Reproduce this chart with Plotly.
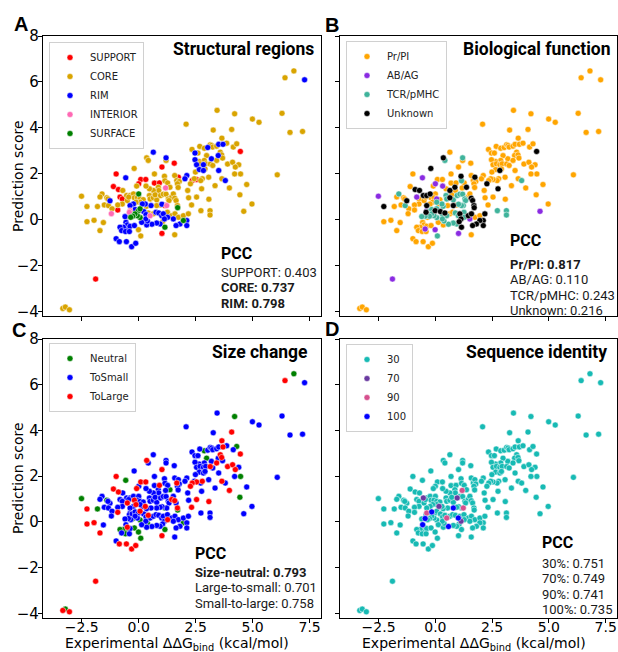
import plotly.graph_objects as go

# ---------------- data ----------------
x_ddg = [6.42, 6.81, 7.28, 3.44, 4.21, 6.29, 2.08, 4.99, 5.28, 6.64, 7.19, 3.27, 4.08, 3.65, 6.08,
         2.34, 2.47, 2.68, 2.88, 3.03, 3.14, 3.20, 3.25, 3.42, 3.51, 3.70, 3.86, 4.15, 4.30, 4.46,
         3.58, 3.49, 3.64, 3.19, 3.42, 2.98, 2.88, 2.65, 2.47, 2.54, 2.69, 2.84, 2.94, 3.14, 3.25,
         2.66, 2.84, 2.91, 2.49, 3.68, 3.90, 4.12, 4.39, 4.24, 4.47, 3.51, 3.65, 3.80, 4.21, 4.74,
         3.98, 3.35, 3.07, 2.79, 2.72, 2.54, 2.44, 2.35, 2.11, 2.03, 2.27, 2.15, 2.19, 2.32, 2.54,
         2.76, 2.73, 3.08, 3.13, 3.13, 4.44, 4.97, 4.61, 2.60, 0.64, 0.35, 0.42, 1.20, 1.20, 1.56,
         -0.20, 1.02, -0.99, -0.57, 0.09, 0.31, 0.69, 0.69, 0.91, 1.13, 1.15, 1.27, 1.58, 1.67, 1.74,
         1.78, 1.70, 1.73, 1.37, 1.18, 0.86, 0.88, 0.64, 0.47, 0.32, 0.00, -0.09, -1.11, -0.89, -0.70,
         -0.53, -0.38, -0.23, 0.00, -0.19, -0.06, 0.06, 0.20, -0.82, -0.72, -0.50, -0.44, -0.72, -0.92, -1.26,
         -1.40, -1.35, -1.61, -1.70, -1.51, -1.81, -2.27, -2.51, -1.33, -1.17, -0.92, -1.20, -1.96, -2.27, -1.55,
         -1.70, 0.47, 0.50, 0.64, 0.79, 0.72, 0.96, 1.08, 1.20, 1.30, 1.45, 1.52, 1.58, 1.64, 1.70,
         1.71, 1.33, 1.23, 1.15, 1.02, 0.94, 0.79, 0.54, 0.34, 0.29, 0.16, 0.06, -0.12, -0.23, -0.38,
         -0.38, -0.41, -0.29, -0.16, -0.01, 0.06, 0.22, 0.32, 0.42, 0.50, 0.64, 0.76, 0.88, 1.01, 1.08,
         1.26, 1.45, 1.59, 1.74, 1.96, 2.18, 2.11, 2.11, 1.96, 1.81, 1.64, 1.52, 1.27, 1.13, 1.05,
         1.15, 0.94, 0.79, 0.58, 0.35, 0.38, 0.31, 0.06, -0.06, -0.16, -0.26, -0.35, -0.45, -0.60, -0.56,
         -0.50, -0.45, -0.38, -0.67, -0.82, -0.75, -0.58, -0.41, -0.19, -0.01, 0.13, 0.09, -0.99, -0.85, -0.54,
         -0.31, -0.13, 1.02, 1.58, -1.89, -3.33, -3.22, -3.04]

y_pred = [6.18, 6.48, 6.09, 4.76, 4.61, 4.63, 4.16, 4.38, 4.24, 3.80, 3.84, 3.90, 3.93, 3.55, 1.95,
          3.06, 2.90, 3.19, 3.11, 3.14, 3.26, 3.23, 3.16, 3.20, 3.28, 3.28, 3.33, 3.16, 3.30, 2.97,
          2.94, 2.79, 2.82, 2.65, 2.58, 2.79, 2.58, 2.53, 2.61, 2.39, 2.43, 2.39, 2.43, 2.42, 2.36,
          2.18, 2.14, 2.21, 2.07, 2.68, 2.42, 2.50, 2.39, 2.29, 1.99, 2.14, 1.78, 1.70, 1.99, 1.53,
          1.38, 1.48, 1.85, 1.78, 1.70, 1.75, 1.78, 1.70, 1.92, 1.78, 1.56, 1.27, 0.95, 0.64, 0.98,
          1.34, 0.39, 0.89, 0.39, 0.20, 1.08, 0.68, 0.36, 2.90, 2.94, 2.69, 2.58, 2.69, 2.58, 2.46,
          2.23, 2.29, 1.99, 1.82, 1.75, 1.75, 1.99, 1.59, 1.60, 1.89, 1.69, 1.60, 1.92, 1.70, 1.85,
          1.66, 1.56, 1.40, 1.41, 1.38, 1.41, 1.27, 1.27, 1.34, 1.46, 1.56, 1.46, 1.44, 1.31, 1.27,
          1.05, 1.05, 1.12, 1.12, 0.95, 0.95, 0.90, 0.87, 0.98, 0.90, 0.83, 0.98, 0.68, 0.64, 0.82,
          0.95, 0.90, 1.12, 0.99, 0.64, 0.57, 0.57, 1.02, 0.61, 0.47, 0.42, 0.26, -0.03, -0.09, -0.13,
          -0.48, 1.05, 0.90, 0.95, 0.86, 1.08, 1.05, 1.11, 1.11, 0.90, 0.98, 1.12, 0.93, 0.83, 0.61,
          0.52, 0.83, 0.61, 0.61, 0.67, 0.64, 0.61, 0.61, 0.58, 0.68, 0.68, 0.76, 0.76, 0.68, 0.61,
          0.39, 0.32, 0.35, 0.44, 0.39, 0.47, 0.35, 0.22, 0.29, 0.17, 0.25, 0.32, 0.29, 0.17, 0.25,
          0.32, 0.17, 0.25, 0.10, 0.17, 0.25, -0.04, -0.26, -0.04, -0.19, -0.26, 0.03, 0.10, 0.03, -0.09,
          -0.33, -0.19, -0.15, -0.20, -0.23, -0.06, 0.03, 0.09, 0.17, 0.25, 0.15, 0.10, 0.15, 0.13, -0.12,
          -0.23, -0.41, -0.29, -0.33, -0.33, -0.48, -0.52, -0.52, -0.26, -0.44, -0.12, -0.71, -0.83, -0.96, -0.96,
          -1.18, -1.03, -0.60, -0.66, -2.59, -3.87, -3.81, -3.93]

# per-point category codes
region_codes = ("YYBYYYYYYYYYYYY" "YBYYBYYYYBBYYYR" "YBYBYYYYBBYBYYY" "BBYYYYYYYYBYBYY"
                "YYYYYRYRBBYYYYY" "YYYYYYYYYBYYBYR" "YRRBRRYRRYYYYYR" "YYYYPYYYYYRYRRY"
                "YYYGYYYYRRYYYYB" "YYYYYYYYYYRPYYY" "YYYYYYYYYYYYYYY" "GYPRBYYBYBBYYBB"
                "PPYBGGBBYPYBBBB" "YYYYYYBBGBBBBBY" "GBBBBBBGGGGGBBB" "BBBBBBBBBYBYBBB"
                "BBRYRYYY")
function_codes = ("OOOOOOOOOOOOOOO" "OOOOOOOOOOOOOOK" "OOOOOOOOOOOOOOO" "OKOOOOOOOOOOTOO"
                  "OOOOOOOOOOKOOOO" "KTOTTOOAOOKTTOO" "KOOAOOOOOKTOOOK" "OOOKOKOKOAAOOKK"
                  "KKKOOOAOAOOOOOK" "OOTOOOKATOOOOOO" "OTTKTOTTTTOOKKK" "KTTTTOKOTTOTOOK"
                  "AKTTKTKTKTOOTTK" "TKKOOKKKKKKATKK" "KTTTOTTTTTTOTTO" "OAOOOOOOOAOTOOO"
                  "OOAOAOOO")
size_codes = ("LNSSNSSSSSSSLLS" "SSSNSSSSSSLSSNL" "LSLSLNSSSSSSSLS" "SSSSSLLSLNSLSSS"
              "LSSLSLSLSSLSSLL" "SSLSSNSSSSLSSSS" "SLLNLLSSLSSSSLS" "SSSNSSSSSSSLLLS"
              "SSSSLSSSSSLSSSS" "NSSSSNLNSSLSLLS" "LSSSSSSSSSLSLSL" "NSSNSSSSSLSSLSS"
              "SSSSSLSSLSSSSSS" "SSSSSSSSNSSSLSS" "NSSSSNSNSSNSSSS" "LNSNNSNSNNSNSLL"
              "LLLSLLNL")
identity_codes = ("333333333333333" "333333333333333" "333333333333333" "333333333333333"
                  "333333333333333" "333333333333333" "333333333333333" "333393333333333"
                  "733333333333333" "333333333333333" "333333733333333" "339333133373333"
                  "933133333933313" "333333333333373" "333133333333131" "333333333333333"
                  "33333333")

region_names = {"R": "SUPPORT", "Y": "CORE", "B": "RIM", "P": "INTERIOR", "G": "SURFACE"}
function_names = {"O": "Pr/PI", "A": "AB/AG", "T": "TCR/pMHC", "K": "Unknown"}
size_names = {"N": "Neutral", "S": "ToSmall", "L": "ToLarge"}
identity_names = {"3": "30", "7": "70", "9": "90", "1": "100"}

region = [region_names[c] for c in region_codes]
function = [function_names[c] for c in function_codes]
size = [size_names[c] for c in size_codes]
identity = [identity_names[c] for c in identity_codes]

region_order = ["SUPPORT", "CORE", "RIM", "INTERIOR", "SURFACE"]
region_colors = ["#ff0000", "#d9a400", "#0000ff", "#ff69b4", "#008000"]
function_order = ["Pr/PI", "AB/AG", "TCR/pMHC", "Unknown"]
function_colors = ["#ffa500", "#8a2be2", "#3fb39b", "#000000"]
size_order = ["Neutral", "ToSmall", "ToLarge"]
size_colors = ["#008000", "#0000ff", "#ff0000"]
identity_order = ["30", "70", "90", "100"]
identity_colors = ["#17bab4", "#6a3aa0", "#d6508e", "#0000ff"]

x_ticks = [-2.5, 0, 2.5, 5, 7.5]
x_tick_labels = ["−2.5", "0.0", "2.5", "5.0", "7.5"]
y_ticks = [-4, -2, 0, 2, 4, 6, 8]
y_tick_labels = ["−4", "−2", "0", "2", "4", "6", "8"]

pcc_A = [("SUPPORT: 0.403", False), ("CORE: 0.737", True), ("RIM: 0.798", True)]
pcc_B = [("Pr/PI: 0.817", True), ("AB/AG: 0.110", False), ("TCR/pMHC: 0.243", False), ("Unknown: 0.216", False)]
pcc_C = [("Size-neutral: 0.793", True), ("Large-to-small: 0.701", False), ("Small-to-large: 0.758", False)]
pcc_D = [("30%: 0.751", False), ("70%: 0.749", False), ("90%: 0.741", False), ("100%: 0.735", False)]

# ---------------- layout helpers ----------------
W, H = 618, 652
def fx(p):
    return p / W
def fy(p):
    return 1 - p / H

fig = go.Figure()

panels = [
    ("", region, region_order, region_colors, "legend"),
    ("2", function, function_order, function_colors, "legend2"),
    ("3", size, size_order, size_colors, "legend3"),
    ("4", identity, identity_order, identity_colors, "legend4"),
]

for suffix, labels, order, colors, leg in panels:
    for name, col in zip(order, colors):
        xs = [x for x, l in zip(x_ddg, labels) if l == name]
        ys = [y for y, l in zip(y_pred, labels) if l == name]
        fig.add_trace(go.Scatter(
            x=xs, y=ys, mode="markers", name=name,
            marker=dict(color=col, size=6, line=dict(color="white", width=0.5)),
            xaxis="x" + suffix, yaxis="y" + suffix, legend=leg,
        ))

x_dom_left = [fx(43), fx(321)]
x_dom_right = [fx(340), fx(617)]
y_dom_top = [fy(316), fy(36)]
y_dom_bot = [fy(618), fy(339)]

xtick_font = dict(family="DejaVu Sans", size=14, color="black")
ytick_font = dict(family="DejaVu Sans", size=15, color="black")
title_font = dict(family="DejaVu Sans", size=14, color="black")

def xaxis(domain, anchor, labels):
    return dict(domain=domain, anchor=anchor, range=[-4.2, 8.0], showgrid=False, zeroline=False,
                showline=True, linecolor="black", linewidth=1.2, mirror=True,
                ticks="outside", ticklen=4, tickwidth=1, tickcolor="black",
                tickvals=x_ticks, ticktext=x_tick_labels, tickfont=xtick_font,
                showticklabels=labels, automargin=False, ticklabelstandoff=-8)

def yaxis(domain, anchor, labels):
    return dict(domain=domain, anchor=anchor, range=[-4.2, 8.0], showgrid=False, zeroline=False,
                showline=True, linecolor="black", linewidth=1.2, mirror=True,
                ticks="outside", ticklen=4, tickwidth=1, tickcolor="black",
                tickvals=y_ticks, ticktext=y_tick_labels, tickfont=ytick_font,
                showticklabels=labels, automargin=False, ticklabelstandoff=-4)

legend_style = dict(xanchor="left", yanchor="top", bgcolor="white", bordercolor="#d0d0d0",
                    borderwidth=1, font=dict(family="DejaVu Sans", size=10, color="#222222"),
                    tracegroupgap=0, itemwidth=30,
                    entrywidth=42, entrywidthmode="pixels")

fig.update_layout(
    width=W, height=H, margin=dict(l=0, r=0, t=0, b=0),
    paper_bgcolor="white", plot_bgcolor="white",
    xaxis=xaxis(x_dom_left, "y", False), yaxis=yaxis(y_dom_top, "x", True),
    xaxis2=xaxis(x_dom_right, "y2", False), yaxis2=yaxis(y_dom_top, "x2", False),
    xaxis3=xaxis(x_dom_left, "y3", True), yaxis3=yaxis(y_dom_bot, "x3", True),
    xaxis4=xaxis(x_dom_right, "y4", True), yaxis4=yaxis(y_dom_bot, "x4", False),
    legend=dict(x=fx(49), y=fy(42), **legend_style),
    legend2=dict(x=fx(346), y=fy(41), **legend_style),
    legend3=dict(x=fx(49), y=fy(343), **legend_style),
    legend4=dict(x=fx(346), y=fy(344), **legend_style),
    showlegend=True,
)

ann = []
# axis titles
for py_ in [176, 478]:
    ann.append(dict(text="Prediction score", x=fx(18), y=fy(py_), xref="paper", yref="paper",
                    xanchor="center", yanchor="middle", textangle=-90, showarrow=False,
                    font=title_font))
for px_ in [177, 474]:
    ann.append(dict(text="Experimental ΔΔG<sub>bind</sub> (kcal/mol)", x=fx(px_), y=fy(644),
                    xref="paper", yref="paper", xanchor="center", yanchor="middle",
                    showarrow=False, borderpad=0, font=title_font))
# panel letters
for letter, (px_, py_) in zip("ABCD", [(21, 24), (332, 25), (19, 330), (332, 329)]):
    ann.append(dict(text="<b>%s</b>" % letter, x=fx(px_), y=fy(py_), xref="paper", yref="paper",
                    xanchor="center", yanchor="middle", showarrow=False,
                    font=dict(family="Liberation Sans", size=20, color="black")))
# panel titles
for txt, (px_, py_) in zip(["Structural regions", "Biological function", "Size change", "Sequence identity"],
                           [(316, 49), (613, 49), (310, 352), (609, 352)]):
    ann.append(dict(text="<b>%s</b>" % txt, x=fx(px_), y=fy(py_), xref="paper", yref="paper",
                    xanchor="right", yanchor="middle", showarrow=False,
                    font=dict(family="Roboto", size=17.5, color="black")))

# PCC blocks
def pcc_block(left, head_y, first_y, lines):
    ann.append(dict(text="<b>PCC</b>", x=fx(left), y=fy(head_y), xref="paper", yref="paper",
                    xanchor="left", yanchor="middle", showarrow=False,
                    font=dict(family="Roboto", size=16, color="black")))
    for i, (t, bold) in enumerate(lines):
        ann.append(dict(text=("<b>%s</b>" % t) if bold else t, x=fx(left), y=fy(first_y + i * 15.6),
                        xref="paper", yref="paper", xanchor="left", yanchor="middle",
                        showarrow=False, font=dict(family="Roboto", size=13, color="#1a1a1a")))

pcc_block(219, 253, 272, pcc_A)
pcc_block(508, 241, 264, pcc_B)
pcc_block(193, 553, 572, pcc_C)
pcc_block(540, 542, 563, pcc_D)

fig.update_layout(annotations=ann)
fig.write_html("out.html", config={"displayModeBar": False},
               post_script="document.body.style.margin='0';")
